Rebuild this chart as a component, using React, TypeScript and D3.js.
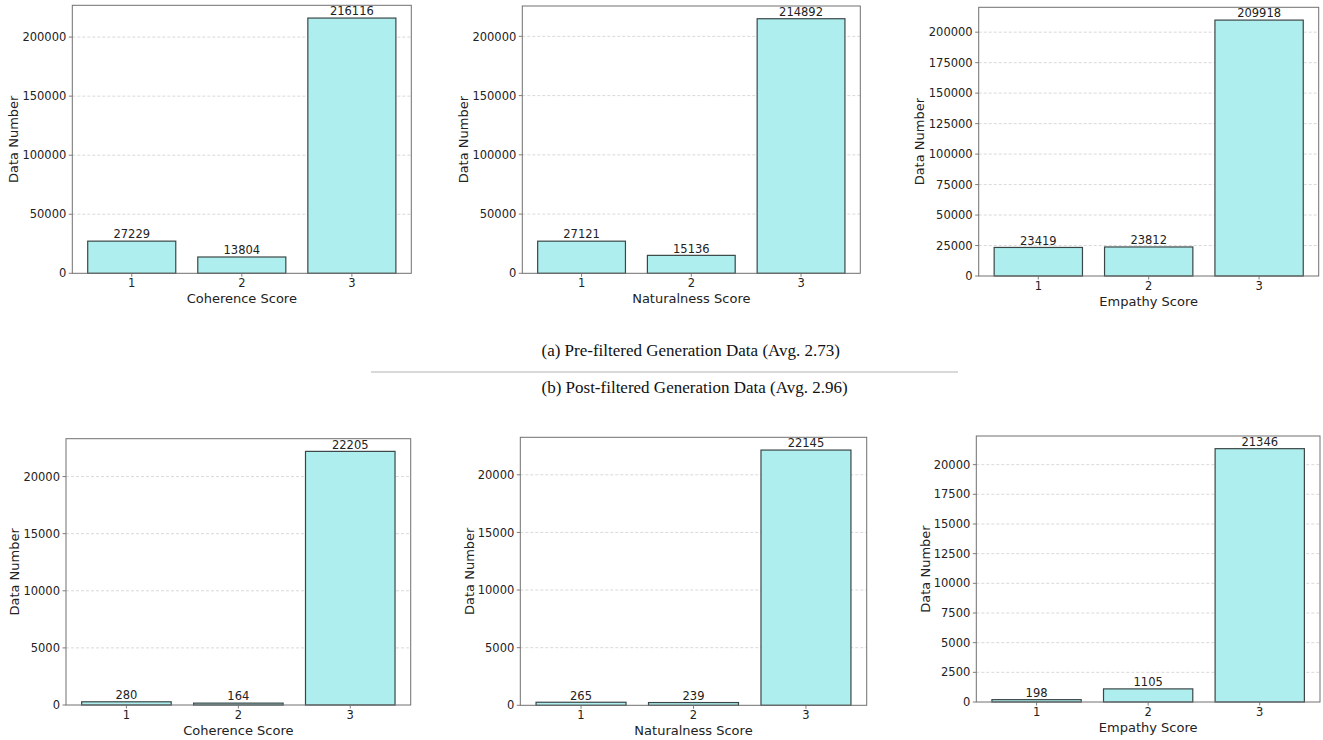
import React from "react";
import * as d3 from "d3";

// ---- Data ----
const scoreCategories = [1, 2, 3];

const preCoherence = [27229, 13804, 216116];
const preNaturalness = [27121, 15136, 214892];
const preEmpathy = [23419, 23812, 209918];

const postCoherence = [280, 164, 22205];
const postNaturalness = [265, 239, 22145];
const postEmpathy = [198, 1105, 21346];

const ticksPreWide = [0, 50000, 100000, 150000, 200000];
const ticksPreFine = [0, 25000, 50000, 75000, 100000, 125000, 150000, 175000, 200000];
const ticksPostWide = [0, 5000, 10000, 15000, 20000];
const ticksPostFine = [0, 2500, 5000, 7500, 10000, 12500, 15000, 17500, 20000];

const xLabels = ["Coherence Score", "Naturalness Score", "Empathy Score"];
const yLabel = "Data Number";
const captionA = "(a) Pre-filtered Generation Data (Avg. 2.73)";
const captionB = "(b) Post-filtered Generation Data (Avg. 2.96)";

// ---- Layout ----
type Panel = {
  values: number[];
  ticks: number[];
  xLabel: string;
  left: number;
  right: number;
  top: number;
  bottom: number;
  yLabelX: number;
};

const panels: Panel[] = [
  { values: preCoherence, ticks: ticksPreWide, xLabel: xLabels[0], left: 72.3, right: 411.3, top: 5.3, bottom: 273.3, yLabelX: 18 },
  { values: preNaturalness, ticks: ticksPreWide, xLabel: xLabels[1], left: 522.3, right: 860.3, top: 6, bottom: 273.3, yLabelX: 468 },
  { values: preEmpathy, ticks: ticksPreFine, xLabel: xLabels[2], left: 978.7, right: 1318.7, top: 7.3, bottom: 276, yLabelX: 924 },
  { values: postCoherence, ticks: ticksPostWide, xLabel: xLabels[0], left: 66, right: 410.7, top: 438.7, bottom: 705, yLabelX: 19 },
  { values: postNaturalness, ticks: ticksPostWide, xLabel: xLabels[1], left: 520.3, right: 866.7, top: 437.3, bottom: 705.3, yLabelX: 473.5 },
  { values: postEmpathy, ticks: ticksPostFine, xLabel: xLabels[2], left: 976.3, right: 1320, top: 436, bottom: 702, yLabelX: 930 },
];

const SANS = "'DejaVu Sans', Verdana, sans-serif";
const SERIF = "'Liberation Serif', 'Times New Roman', serif";
const TICK_FS = 11.5;
const LABEL_FS = 13;
const BAR_FILL = "#AFEEEE";
const BAR_EDGE = "#3b4747";
const SPINE = "#707070";
const TEXT = "#222";

function BarPanel({ p }: { p: Panel }) {
  const maxV = d3.max(p.values) as number;
  const x = d3.scaleLinear().domain([0.46, 3.54]).range([p.left, p.right]);
  const y = d3.scaleLinear().domain([0, maxV * 1.05]).range([p.bottom, p.top]);
  const barW = 0.8;
  const cy = (p.top + p.bottom) / 2;
  const cx = (p.left + p.right) / 2;
  return (
    <g>
      {/* grid */}
      {p.ticks.filter((t) => t > 0).map((t) => (
        <line key={"g" + t} x1={p.left} x2={p.right} y1={y(t)} y2={y(t)}
          stroke="#c8c8c8" strokeWidth={0.7} strokeDasharray="3,2" />
      ))}
      {/* bars */}
      {p.values.map((v, i) => {
        const c = scoreCategories[i];
        const x0 = x(c - barW / 2);
        const x1 = x(c + barW / 2);
        return (
          <g key={"b" + i}>
            <rect x={x0} y={y(v)} width={x1 - x0} height={y(0) - y(v)}
              fill={BAR_FILL} stroke={BAR_EDGE} strokeWidth={1.2} />
            <text x={(x0 + x1) / 2} y={y(v) - 2.7} textAnchor="middle"
              fontFamily={SANS} fontSize={TICK_FS} fill={TEXT}>{v}</text>
          </g>
        );
      })}
      {/* spines */}
      <rect x={p.left} y={p.top} width={p.right - p.left} height={p.bottom - p.top}
        fill="none" stroke={SPINE} strokeWidth={1} />
      {/* y ticks */}
      {p.ticks.map((t) => (
        <g key={"yt" + t}>
          <line x1={p.left - 3.5} x2={p.left} y1={y(t)} y2={y(t)} stroke={SPINE} strokeWidth={0.9} />
          <text x={p.left - 6} y={y(t)} dy="0.36em" textAnchor="end"
            fontFamily={SANS} fontSize={TICK_FS} fill={TEXT}>{t}</text>
        </g>
      ))}
      {/* x ticks */}
      {scoreCategories.map((c) => (
        <g key={"xt" + c}>
          <line x1={x(c)} x2={x(c)} y1={p.bottom} y2={p.bottom + 3.5} stroke={SPINE} strokeWidth={0.9} />
          <text x={x(c)} y={p.bottom + 14} textAnchor="middle"
            fontFamily={SANS} fontSize={TICK_FS} fill={TEXT}>{c}</text>
        </g>
      ))}
      <text x={cx} y={p.bottom + 30} textAnchor="middle" fontFamily={SANS}
        fontSize={LABEL_FS} fill={TEXT}>{p.xLabel}</text>
      <text transform={`translate(${p.yLabelX},${cy}) rotate(-90)`} textAnchor="middle"
        fontFamily={SANS} fontSize={LABEL_FS} fill={TEXT}>{yLabel}</text>
    </g>
  );
}

export default function App() {
  return (
    <svg width={1323} height={740} style={{ position: "absolute", left: 0, top: 0, background: "#fff" }}>
      <rect x={0} y={0} width={1323} height={740} fill="#fff" />
      {panels.map((p, i) => (
        <BarPanel key={i} p={p} />
      ))}
      <text x={541.5} y={355.5} textAnchor="start" fontFamily={SERIF} fontSize={17} fill="#111">{captionA}</text>
      <line x1={371} x2={958} y1={372} y2={372} stroke="#cccccc" strokeWidth={1.6} />
      <text x={541.5} y={392.5} textAnchor="start" fontFamily={SERIF} fontSize={17} fill="#111">{captionB}</text>
    </svg>
  );
}
